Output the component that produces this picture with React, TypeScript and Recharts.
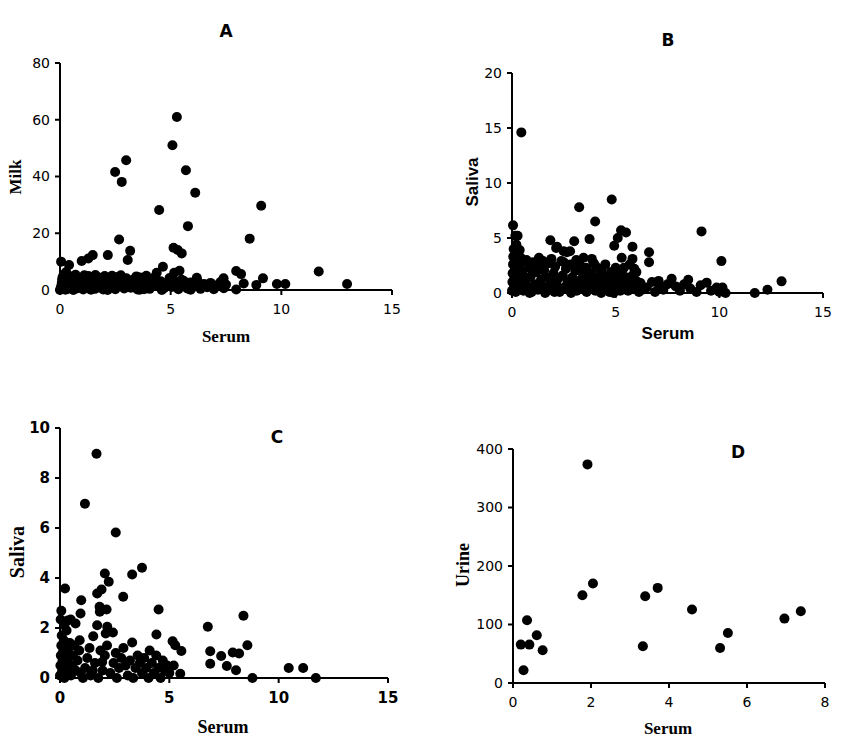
import React from 'react';
import { ScatterChart, Scatter, XAxis, YAxis } from 'recharts';

// [serum, milk]
const milkVsSerum: [number, number][] = [
  [5.28, 61.0], [5.08, 51.0], [2.99, 45.7], [2.49, 41.6], [2.79, 38.1], [5.69, 42.2], [6.11, 34.3],
  [4.48, 28.2], [9.09, 29.7], [5.78, 22.5], [8.57, 18.1], [2.67, 17.8], [5.13, 14.9], [5.32, 14.1],
  [5.5, 12.9], [3.17, 13.8], [3.06, 10.6], [2.16, 12.3], [1.48, 12.3], [1.28, 11.1], [0.98, 10.2],
  [0.05, 10.0], [0.41, 8.8], [4.65, 8.2], [4.37, 6.1], [5.16, 6.1], [5.4, 6.8], [11.69, 6.5],
  [7.96, 6.7], [8.18, 5.6], [12.97, 2.1], [10.18, 2.1], [9.8, 2.1], [9.17, 4.1], [8.87, 1.8],
  [8.3, 2.3], [7.39, 4.1], [6.18, 4.3], [7.96, 0.2],
  [0.02, 0.3], [0.05, 1.2], [0.08, 2.5], [0.1, 3.8], [0.12, 4.6], [0.15, 0.8], [0.18, 2.0], [0.2, 5.6],
  [0.22, 3.1], [0.25, 0.1], [0.3, 1.6], [0.33, 4.2], [0.36, 2.7], [0.4, 0.5], [0.45, 3.5], [0.5, 1.1],
  [0.55, 4.8], [0.6, 2.2], [0.65, 0.3], [0.7, 3.9], [0.75, 1.7], [0.8, 0.6], [0.88, 2.9], [0.95, 4.3],
  [1.0, 1.3], [1.05, 0.2], [1.12, 3.4], [1.2, 2.1], [1.28, 4.9], [1.35, 0.7], [1.42, 1.8], [1.5, 3.7],
  [1.58, 0.4], [1.65, 2.6], [1.72, 4.5], [1.8, 1.0], [1.88, 3.2], [1.95, 0.2], [2.02, 4.9], [2.1, 1.9],
  [2.2, 0.6], [2.3, 3.4], [2.4, 2.3], [2.5, 0.3], [2.6, 4.6], [2.7, 1.4], [2.8, 3.0], [2.9, 0.5],
  [3.0, 4.1], [3.1, 2.2], [3.2, 0.8], [3.3, 3.6], [3.4, 1.5], [3.5, 0.2], [3.62, 4.4], [3.75, 2.8],
  [3.85, 1.0], [3.95, 3.9], [4.05, 0.4], [4.15, 2.4], [4.3, 4.7], [4.4, 1.3], [4.55, 3.1], [4.7, 0.6],
  [4.8, 2.0], [4.95, 4.2], [5.05, 1.1], [5.2, 2.9], [5.35, 0.3], [5.5, 3.6], [5.6, 1.7], [5.75, 0.5],
  [5.9, 2.6], [6.05, 1.2], [6.2, 3.3], [6.35, 0.4], [6.5, 2.1], [6.65, 1.0], [6.8, 2.5], [6.95, 0.3],
  [7.1, 1.6], [7.25, 2.8], [7.4, 0.6], [7.5, 1.9], [0.0, 0.0], [0.6, 0.0], [1.4, 0.1], [2.15, 0.0],
  [3.6, 0.1], [4.6, 0.0], [5.9, 0.1],
  [0.28, 6.3], [0.7, 5.4], [1.1, 5.2], [1.6, 5.3], [2.35, 5.0], [2.75, 5.2], [3.45, 4.8], [3.9, 5.0],
  [4.2, 3.2], [0.3, 2.9], [0.9, 1.9], [1.3, 2.8], [1.9, 1.5], [2.6, 2.2], [3.3, 2.0], [3.8, 0.3],
  [4.9, 2.9], [5.6, 3.2], [6.3, 1.5], [6.9, 1.8],
];

// [serum, saliva] – panel B
const salivaVsSerumB: [number, number][] = [
  [0.45, 14.6], [0.05, 6.15], [0.27, 5.2], [4.81, 8.5], [3.24, 7.8], [4.01, 6.5], [9.14, 5.6],
  [5.5, 5.5], [5.26, 5.7], [5.1, 5.0], [4.93, 4.3], [5.81, 4.2], [3.74, 4.9], [3.0, 4.7], [1.85, 4.8],
  [2.13, 4.1], [2.49, 3.8], [2.8, 3.8], [6.61, 3.7], [6.61, 2.8], [10.1, 2.9], [5.81, 3.1], [5.29, 3.2],
  [3.45, 3.2], [3.85, 3.1], [1.3, 3.2], [1.9, 3.1], [4.33, 2.2], [5.0, 2.3], [5.9, 2.2], [9.39, 0.94],
  [13.0, 1.06], [12.32, 0.3], [11.71, 0.0], [7.7, 1.3], [8.5, 1.2], [9.87, 0.5], [10.15, 0.5],
  [2.17, 4.2], [2.65, 3.7], [0.16, 5.2], [0.21, 4.4], [0.37, 3.9],
  [6.75, 1.0], [7.07, 1.1], [7.3, 0.3], [7.5, 0.8], [7.9, 0.6], [8.1, 0.2], [8.3, 0.8], [8.6, 0.4],
  [8.9, 0.1], [9.1, 0.7], [9.6, 0.2], [10.0, 0.1], [10.3, 0.0], [6.5, 0.5], [6.9, 0.1], [7.1, 0.6],
  [0.0, 0.2], [0.02, 1.0], [0.03, 1.8], [0.05, 2.6], [0.06, 3.3], [0.08, 4.0], [0.1, 0.6], [0.12, 1.4],
  [0.14, 2.2], [0.15, 3.0], [0.18, 0.1], [0.2, 1.1], [0.22, 2.0], [0.25, 2.8], [0.28, 3.6], [0.3, 0.4],
  [0.33, 1.6], [0.36, 2.4], [0.4, 0.9], [0.42, 3.2],
  [0.5, 1.9], [0.55, 0.2], [0.6, 2.9], [0.68, 1.2], [0.75, 0.5], [0.82, 2.3], [0.9, 1.5], [0.95, 0.1],
  [1.02, 2.8], [1.1, 0.8], [1.18, 1.9], [1.25, 0.3], [1.32, 2.5], [1.4, 1.2], [1.48, 0.6], [1.55, 2.1],
  [1.62, 1.5], [1.7, 0.2], [1.78, 2.7], [1.85, 1.0], [1.92, 0.4], [2.0, 1.8], [2.08, 2.4], [2.15, 0.7],
  [2.22, 1.3], [2.3, 0.1], [2.38, 2.9], [2.45, 1.6], [2.52, 0.5], [2.6, 2.2], [2.68, 1.0], [2.75, 0.3],
  [2.82, 2.6], [2.9, 1.4], [2.98, 0.8], [3.05, 2.0], [3.12, 0.2], [3.2, 1.1], [3.28, 2.5], [3.35, 0.6],
  [3.42, 1.7], [3.5, 0.3], [3.58, 2.3], [3.65, 1.2], [3.72, 0.5], [3.8, 1.8], [3.88, 0.9], [3.95, 2.7],
  [4.02, 0.2], [4.1, 1.4], [4.18, 0.7], [4.25, 2.0], [4.32, 1.1], [4.4, 0.3], [4.48, 1.6], [4.55, 0.8],
  [4.62, 1.3], [4.7, 0.1], [4.78, 1.9], [4.85, 0.6], [4.92, 1.2], [5.0, 0.4], [5.08, 1.5], [5.15, 0.9],
  [5.22, 0.2], [5.3, 1.8], [5.38, 1.1], [5.45, 0.5], [5.52, 1.4], [5.6, 0.2], [5.68, 2.6], [5.75, 0.8],
  [5.82, 1.6], [5.9, 0.4], [5.98, 1.1], [6.05, 0.7], [6.12, 0.1], [6.2, 0.9], [6.28, 0.3],
  [0.7, 3.0], [1.0, 2.0], [1.5, 2.9], [2.05, 0.1], [2.5, 2.8], [3.1, 3.0], [3.6, 0.1], [4.05, 2.4],
  [4.5, 2.6], [4.9, 0.0], [5.4, 2.3], [6.0, 1.9], [0.85, 0.0], [1.6, 0.0], [2.85, 0.0], [4.3, 0.0],
];

// [serum, saliva] – panel C
const salivaVsSerumC: [number, number][] = [
  [1.67, 8.97], [1.14, 6.97], [2.55, 5.82], [3.75, 4.41], [3.3, 4.14], [2.05, 4.18], [2.23, 3.85],
  [1.9, 3.54], [1.7, 3.38], [2.89, 3.25], [0.97, 3.11], [0.23, 3.58], [1.81, 2.85], [2.13, 2.74],
  [1.82, 2.65], [4.51, 2.74], [8.39, 2.49], [6.76, 2.05], [0.06, 2.69], [0.94, 2.58], [0.03, 2.34],
  [0.49, 2.34], [0.71, 2.18], [1.7, 2.11], [2.16, 2.05], [2.42, 1.82], [4.41, 1.74], [1.52, 1.67],
  [5.15, 1.47], [5.27, 1.31], [5.55, 1.08], [8.57, 1.31], [3.3, 1.42], [0.9, 1.51], [6.87, 1.07],
  [7.37, 0.88], [7.9, 1.02], [8.19, 0.98], [6.87, 0.57], [7.63, 0.48], [8.05, 0.31], [10.46, 0.4],
  [11.12, 0.4], [8.8, 0.0], [11.7, 0.0], [5.5, 0.17], [1.93, 0.64], [2.09, 1.78], [0.2, 2.1], [0.35, 2.3],
  [0.0, 0.1], [0.02, 0.5], [0.04, 0.9], [0.06, 1.3], [0.08, 1.7], [0.1, 0.3], [0.12, 0.7], [0.15, 1.1],
  [0.18, 1.5], [0.2, 0.0], [0.22, 0.4], [0.25, 0.8], [0.28, 1.2], [0.3, 1.9], [0.33, 0.2], [0.36, 0.6],
  [0.4, 1.0], [0.45, 1.4], [0.5, 0.1], [0.55, 0.5], [0.6, 0.9], [0.65, 1.3], [0.72, 0.3], [0.8, 0.7],
  [0.88, 1.1], [0.95, 0.2], [1.05, 0.0], [1.15, 0.4], [1.25, 0.8], [1.35, 1.2], [1.4, 0.1], [1.5, 0.3],
  [1.6, 0.6], [1.75, 0.0], [1.85, 1.1], [1.95, 0.3], [2.05, 0.9], [2.15, 1.3], [2.3, 0.2], [2.45, 0.6],
  [2.55, 1.0], [2.6, 0.0], [2.7, 0.4], [2.8, 0.8], [2.9, 1.2], [3.0, 0.5], [3.1, 0.1], [3.2, 0.7],
  [3.35, 0.0], [3.45, 0.4], [3.55, 0.9], [3.65, 0.6], [3.75, 0.2], [3.85, 0.8], [3.95, 0.4], [4.05, 0.0],
  [4.1, 1.1], [4.2, 0.6], [4.3, 0.2], [4.4, 0.9], [4.5, 0.4], [4.6, 0.0], [4.7, 0.7], [4.8, 0.3],
  [4.9, 0.5], [5.0, 0.2], [5.2, 0.5],
];

// [serum, urine]
const urineVsSerum: [number, number][] = [
  [0.2, 65.6], [0.27, 21.7], [0.36, 107.3], [0.42, 65.6], [0.61, 81.6], [0.76, 55.9], [1.78, 150],
  [1.91, 373.7], [2.05, 170], [3.33, 62.8], [3.39, 148.4], [3.71, 162.6], [4.59, 125.5], [5.31, 59.9],
  [5.51, 85.6], [6.96, 110.1], [7.38, 122.7],
];

const serumTicks15 = [0, 5, 10, 15];
const milkTicks = [0, 20, 40, 60, 80];
const salivaTicksB = [0, 5, 10, 15, 20];
const salivaTicksC = [0, 2, 4, 6, 8, 10];
const serumTicks8 = [0, 2, 4, 6, 8];
const urineTicks = [0, 100, 200, 300, 400];

const toRows = (pts: [number, number][]) => pts.map(([x, y]) => ({ x, y }));

const SANS = '"DejaVu Sans", sans-serif';
const ARIAL = '"Liberation Sans", Arial, sans-serif';
const SERIF = '"Liberation Serif", "Times New Roman", serif';

// solid black marker, a bit bigger than the default symbol
const Dot = (props: any) => <circle cx={props.cx} cy={props.cy} r={5} fill="#000" />;

interface PanelProps {
  left: number;
  top: number;
  height: number;
  margin: { top: number; right: number; bottom: number; left: number };
  data: [number, number][];
  xDomain: [number, number];
  xTicks: number[];
  yDomain: [number, number];
  yTicks: number[];
  boldTicks?: boolean;
  tickSize?: number;
}

const Panel: React.FC<PanelProps> = ({
  left, top, height, margin, data, xDomain, xTicks, yDomain, yTicks, boldTicks = false, tickSize = 14,
}) => {
  const tick = { fontSize: tickSize, fill: '#000', fontFamily: SANS, fontWeight: boldTicks ? 700 : 400 };
  return (
    <div style={{ position: 'absolute', left, top }}>
      <ScatterChart width={420} height={height} margin={margin}>
        <XAxis
          type="number"
          dataKey="x"
          domain={xDomain}
          ticks={xTicks}
          height={30}
          axisLine={{ stroke: '#000', strokeWidth: 2 }}
          tickLine={{ stroke: '#000', strokeWidth: 2 }}
          tickSize={5}
          tickMargin={9}
          tick={tick}
          interval={0}
        />
        <YAxis
          type="number"
          dataKey="y"
          domain={yDomain}
          ticks={yTicks}
          width={60}
          axisLine={{ stroke: '#000', strokeWidth: 2 }}
          tickLine={{ stroke: '#000', strokeWidth: 2 }}
          tickSize={5}
          tickMargin={5}
          tick={tick}
          interval={0}
        />
        <Scatter data={toRows(data)} fill="#000" shape={Dot} isAnimationActive={false} />
      </ScatterChart>
    </div>
  );
};

const Text: React.FC<{ x: number; y: number; size: number; font: string; rotate?: boolean; children: React.ReactNode }> = ({
  x, y, size, font, rotate = false, children,
}) => (
  <div
    style={{
      position: 'absolute',
      left: x,
      top: y,
      transform: `translate(-50%, -50%)${rotate ? ' rotate(-90deg)' : ''}`,
      fontFamily: font,
      fontWeight: 700,
      fontSize: size,
      whiteSpace: 'nowrap',
      lineHeight: 1,
      color: '#000',
    }}
  >
    {children}
  </div>
);

export default function App() {
  return (
    <div style={{ position: 'absolute', left: 0, top: 0, width: 850, height: 744, background: '#fff' }}>
      <Panel
        left={0} top={0} height={370}
        margin={{ top: 63, right: 28, bottom: 50, left: 0 }}
        data={milkVsSerum} xDomain={[0, 15]} xTicks={serumTicks15} yDomain={[0, 80]} yTicks={milkTicks}
      />
      <Panel
        left={430} top={0} height={370}
        margin={{ top: 73, right: 27, bottom: 47, left: 22 }}
        data={salivaVsSerumB} xDomain={[0, 15]} xTicks={serumTicks15} yDomain={[0, 20]} yTicks={salivaTicksB}
      />
      <Panel
        left={0} top={380} height={364}
        margin={{ top: 48, right: 32, bottom: 36, left: 0 }}
        data={salivaVsSerumC} xDomain={[0, 15]} xTicks={serumTicks15} yDomain={[0, 10]} yTicks={salivaTicksC}
        boldTicks tickSize={15}
      />
      <Panel
        left={430} top={380} height={364}
        margin={{ top: 69, right: 25, bottom: 31, left: 23 }}
        data={urineVsSerum} xDomain={[0, 8]} xTicks={serumTicks8} yDomain={[0, 400]} yTicks={urineTicks}
      />

      <Text x={226} y={31} size={17} font={SANS}>A</Text>
      <Text x={668} y={40} size={17} font={SANS}>B</Text>
      <Text x={277} y={437} size={17} font={SANS}>C</Text>
      <Text x={738} y={452} size={17} font={SANS}>D</Text>

      <Text x={15} y={177} size={17} font={SERIF} rotate>Milk</Text>
      <Text x={226} y={336} size={17} font={SERIF}>Serum</Text>
      <Text x={472} y={182} size={17} font={ARIAL} rotate>Saliva</Text>
      <Text x={668} y={333} size={17} font={ARIAL}>Serum</Text>
      <Text x={17} y={552} size={20} font={SERIF} rotate>Saliva</Text>
      <Text x={223} y={727} size={18} font={SERIF}>Serum</Text>
      <Text x={463} y={565} size={18} font={SERIF} rotate>Urine</Text>
      <Text x={668} y={728} size={17} font={SERIF}>Serum</Text>
    </div>
  );
}
